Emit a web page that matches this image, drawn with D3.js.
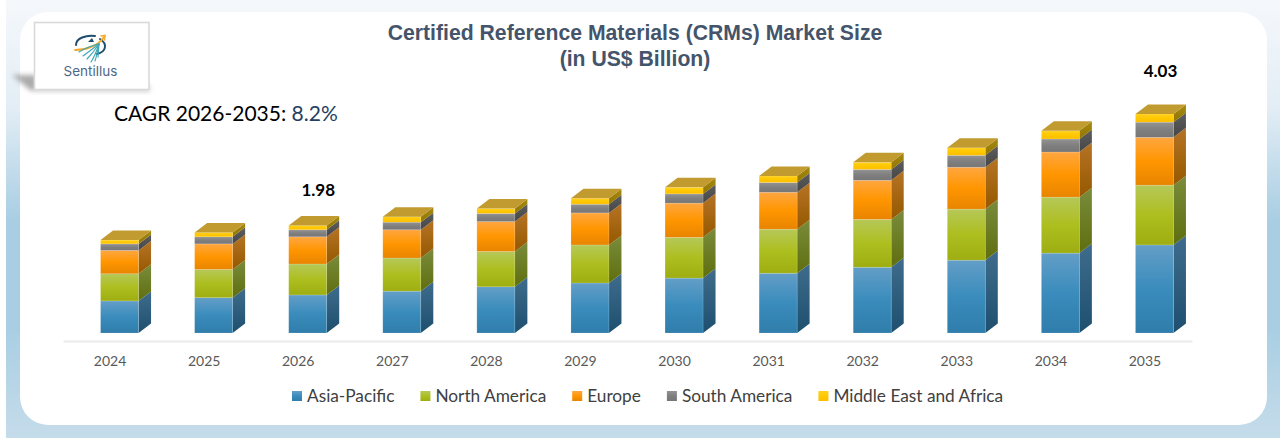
<!DOCTYPE html>
<html>
<head>
<meta charset="utf-8">
<title>Certified Reference Materials (CRMs) Market Size</title>
<script src="https://cdn.jsdelivr.net/npm/d3@7"></script>
<style>
html,body{margin:0;padding:0;background:#fff;overflow:hidden}
svg{display:block}
</style>
</head>
<body>
<div id="graph1"></div>
<script>
var years=["2024","2025","2026","2027","2028","2029","2030","2031","2032","2033","2034","2035"];
var series_names=["Asia-Pacific","North America","Europe","South America","Middle East and Africa"];
var asia_pacific=[0.59,0.65,0.70,0.77,0.85,0.92,1.01,1.10,1.21,1.34,1.47,1.62];
var north_america=[0.50,0.52,0.57,0.61,0.65,0.70,0.75,0.81,0.88,0.94,1.03,1.10];
var europe=[0.43,0.47,0.50,0.52,0.55,0.59,0.63,0.68,0.72,0.77,0.83,0.88];
var south_america=[0.12,0.13,0.13,0.14,0.15,0.16,0.17,0.18,0.20,0.22,0.24,0.28];
var middle_east=[0.07,0.08,0.08,0.10,0.09,0.11,0.12,0.12,0.13,0.14,0.15,0.15];
var total_labels={"2026":"1.98","2035":"4.03"};

// front gradient, side gradient
var front_colors=[["#639ec7","#3a8cbc","#2f7dab"],["#b6c858","#adbe1f","#9eae12"],["#ffa640","#ff9600","#e88400"],["#939393","#7f7f7f","#767676"],["#ffd020","#ffc800","#fdbf00"]];
var side_colors=[["#3f6c8c","#1e4f6e"],["#7a8c3c","#5f6e0e"],["#b57425","#965800"],["#5e5e5e","#454545"],["#a88a10","#907500"]];
var top_color="#c19b30";

var width=1280,height=438;
var depth_x=12.5,depth_y=9.5,bar_width=38;

var svg=d3.select("#graph1").append("svg")
	.attr("width",width)
	.attr("height",height);
var defs=svg.append("defs");

function make_gradient(id,stops){
	var g=defs.append("linearGradient").attr("id",id)
		.attr("x1",0).attr("y1",0).attr("x2",0).attr("y2",1);
	stops.forEach(function(c,i){
		g.append("stop").attr("offset",i/(stops.length-1)).attr("stop-color",c);
	});
}
make_gradient("bg",["#f5f8fb","#e2edf5","#a9cee3","#a9cee3","#c5dcea"]);
series_names.forEach(function(d,i){
	make_gradient("front"+i,front_colors[i]);
	make_gradient("side"+i,side_colors[i]);
});
defs.append("filter").attr("id","blur").attr("x","-30%").attr("y","-30%").attr("width","160%").attr("height","160%")
	.append("feGaussianBlur").attr("stdDeviation",2.5);

// background and panel
svg.append("rect").attr("x",6).attr("y",0).attr("width",width-6).attr("height",height).attr("fill","url(#bg)");
svg.append("rect").attr("x",20).attr("y",12).attr("width",1247).attr("height",413).attr("rx",28).attr("ry",28).attr("fill","#fff");

// logo box
var logo=svg.append("g");
logo.append("path").attr("d","M12,75 L36,75 L36,91 L30,90 Z").attr("fill","#8f8f8f").attr("opacity",0.75).attr("filter","url(#blur)");
logo.append("rect").attr("x",36).attr("y",85).attr("width",114).attr("height",7).attr("fill","#aaa").attr("opacity",0.5).attr("filter","url(#blur)");
logo.append("rect").attr("x",34.5).attr("y",22.5).attr("width",114.5).attr("height",67).attr("fill","#fff").attr("stroke","#d9d9d9").attr("stroke-width",1.6);
var icon=logo.append("g").attr("fill","none").attr("stroke-linecap","round");
icon.append("path").attr("d","M76,45 C76,38 86,35 95,36").attr("stroke","#1f4e6e").attr("stroke-width",2);
icon.append("path").attr("d","M100,39 C108,44 106,52 97,54").attr("stroke","#1f4e6e").attr("stroke-width",2);
icon.append("path").attr("d","M75,50 C86,50 98,46 104,37").attr("stroke","#f4a92c").attr("stroke-width",1.8);
icon.append("path").attr("d","M101,36 L105,35.5 L104.5,40").attr("stroke","#f4a92c").attr("stroke-width",1.6);
icon.append("path").attr("d","M88,42 L92,38 L94,42 Z").attr("fill","#1f4e6e").attr("stroke","none");
[[79,52],[83,56],[87,59],[91,62],[95,61],[98,57]].forEach(function(p){
	icon.append("path").attr("d","M99,44 Q"+((p[0]+99)/2)+","+(p[1]-6)+" "+p[0]+","+p[1]).attr("stroke","#3aa6b5").attr("stroke-width",1.1);
});
logo.append("text").attr("x",90.5).attr("y",76).attr("text-anchor","middle")
	.attr("font-family","Inter, 'Noto Sans', sans-serif").attr("font-size",13.5).attr("fill","#4d6884").text("Sentillus");

// title
var title=svg.append("g").attr("font-family","'Liberation Sans', Arial, sans-serif").attr("font-weight","bold")
	.attr("font-size",21.2).attr("fill","#44546a").attr("text-anchor","middle");
title.append("text").attr("x",635).attr("y",40).text("Certified Reference Materials (CRMs) Market Size");
title.append("text").attr("x",635).attr("y",66).text("(in US$ Billion)");

// cagr
var cagr=svg.append("text").attr("x",114).attr("y",121).attr("font-family","Lato, sans-serif").attr("font-size",21).attr("fill","#000");
cagr.append("tspan").text("CAGR 2026-2035: ");
cagr.append("tspan").attr("fill","#1f3f63").text("8.2%");

// scales
var xScale=d3.scaleBand().domain(years).range([63,1192]);
var yScale=d3.scaleLinear().domain([0,4.03]).range([333,114]);

var table=years.map(function(y,i){
	return {year:y,s0:asia_pacific[i],s1:north_america[i],s2:europe[i],s3:south_america[i],s4:middle_east[i]};
});
var stacked=d3.stack().keys(["s0","s1","s2","s3","s4"])(table);

function bar_left(year){
	return xScale(year)+xScale.bandwidth()/2-9.5;
}

// axis
var axis=svg.append("g").attr("transform","translate(0,341)")
	.call(d3.axisBottom(xScale).tickSize(0).tickPadding(15));
axis.select(".domain").attr("stroke","#ebebeb").attr("stroke-width",1.8);
axis.selectAll("text").attr("font-family","Lato, sans-serif").attr("font-size",14).attr("fill","#595959");

// bars
var bars=svg.append("g");
stacked.forEach(function(layer,s){
	var seg=bars.append("g");
	seg.selectAll(".side").data(layer).enter().append("path")
		.attr("class","side")
		.attr("fill","url(#side"+s+")")
		.attr("d",function(d){
			var r=bar_left(d.data.year)+bar_width,y0=yScale(d[0]),y1=yScale(d[1]);
			return "M"+r+","+y0+"L"+(r+depth_x)+","+(y0-depth_y)+"L"+(r+depth_x)+","+(y1-depth_y)+"L"+r+","+y1+"Z";
		});
	seg.selectAll(".front").data(layer).enter().append("rect")
		.attr("class","front")
		.attr("x",function(d){return bar_left(d.data.year)})
		.attr("y",function(d){return yScale(d[1])})
		.attr("width",bar_width)
		.attr("height",function(d){return yScale(d[0])-yScale(d[1])})
		.attr("fill","url(#front"+s+")")
		.attr("stroke","#fff").attr("stroke-opacity",0.22).attr("stroke-width",0.7);
});
bars.selectAll(".cap").data(stacked[stacked.length-1]).enter().append("path")
	.attr("class","cap")
	.attr("fill",top_color)
	.attr("d",function(d){
		var l=bar_left(d.data.year),y=yScale(d[1]);
		return "M"+l+","+y+"L"+(l+bar_width)+","+y+"L"+(l+bar_width+depth_x)+","+(y-depth_y)+"L"+(l+depth_x)+","+(y-depth_y)+"Z";
	});

// total labels
svg.selectAll(".total").data(stacked[stacked.length-1].filter(function(d){return total_labels[d.data.year]})).enter().append("text")
	.attr("class","total")
	.attr("x",function(d){return bar_left(d.data.year)+bar_width/2+(d.data.year=="2035"?6:10.5)})
	.attr("y",function(d){return d.data.year=="2035"?77:196})
	.attr("text-anchor","middle")
	.attr("font-family","Lato, sans-serif").attr("font-weight","bold").attr("font-size",17).attr("fill","#000")
	.text(function(d){return total_labels[d.data.year]});

// legend
var legend_x=292;
series_names.forEach(function(name,i){
	var g=svg.append("g").attr("transform","translate("+legend_x+",396)");
	g.append("rect").attr("x",0).attr("y",-5).attr("width",10).attr("height",10).attr("fill","url(#front"+i+")");
	var t=g.append("text").attr("x",15).attr("y",6).attr("font-family","Lato, sans-serif").attr("font-size",17.25).attr("fill","#404040").text(name);
	legend_x+=15+t.node().getComputedTextLength()+26;
});
</script>
</body>
</html>
